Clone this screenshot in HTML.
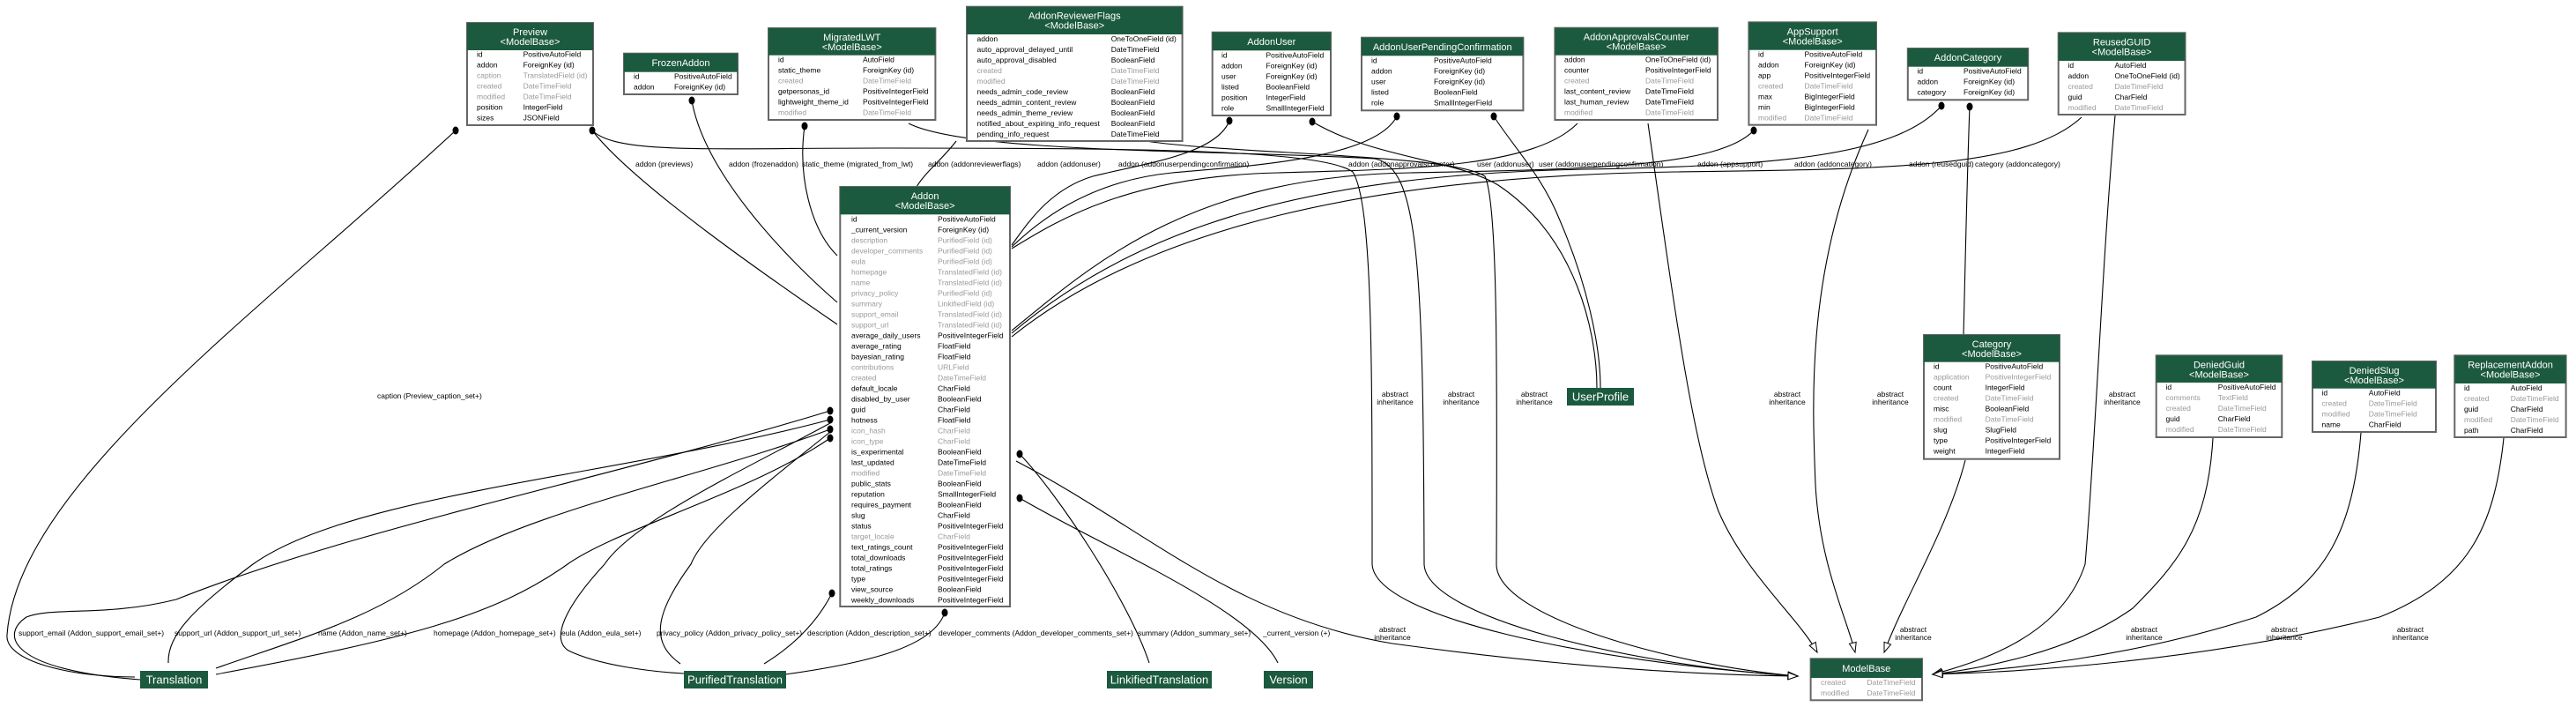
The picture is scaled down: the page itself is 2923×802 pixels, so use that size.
<!DOCTYPE html>
<html><head><meta charset="utf-8"><style>
html,body{margin:0;padding:0;background:#fff;}
svg{display:block;}
text{font-family:"Liberation Sans",Arial,sans-serif;}
.h{fill:#fff;font-size:11px;text-anchor:middle;}
.r{fill:#000;font-size:8.5px;}
.g{fill:#9a9a9a;font-size:8.5px;}
.l{fill:#000;font-size:8.5px;}
.a{fill:#000;font-size:8.5px;text-anchor:middle;}
.n{fill:#fff;font-size:13px;text-anchor:middle;}
.bx{fill:#fff;stroke:#666;stroke-width:2;}
.hd{fill:#1c5a3f;}
.e{fill:none;stroke:#000;stroke-width:1.1;}
.dot{fill:#000;}
</style></head><body>
<svg width="2923" height="802" viewBox="0 0 2923 802" xmlns="http://www.w3.org/2000/svg">
<defs>
<marker id="tri" markerUnits="userSpaceOnUse" markerWidth="14" markerHeight="12" refX="12" refY="5" orient="auto">
<path d="M1,1 L12,5 L1,9 Z" fill="#fff" stroke="#000" stroke-width="1"/>
</marker>
</defs>

<path class="e" d="M672,148 C720,210 880,320 950,368"/>
<path class="e" d="M785,114 C800,200 900,300 950,343"/>
<path class="e" d="M913,143 C905,200 920,260 950,290"/>
<path class="e" d="M1085,160 C1070,180 1050,195 1040,212"/>
<path class="e" d="M1395,137 C1380,175 1300,185 1240,200 C1190,215 1165,255 1148,278"/>
<path class="e" d="M1585,132 C1560,180 1420,188 1330,196 C1230,206 1175,255 1148,280"/>
<path class="e" d="M1790,140 C1740,190 1600,192 1450,196 C1280,200 1200,250 1148,282"/>
<path class="e" d="M1990,148 C1950,190 1800,192 1600,196 C1350,200 1240,300 1148,375"/>
<path class="e" d="M2203,120 C2150,180 2000,188 1800,192 C1500,198 1300,250 1148,378"/>
<path class="e" d="M2362,133 C2300,190 2150,192 1900,195 C1550,200 1300,260 1148,382"/>
<path class="e" d="M1489,138 C1560,180 1650,180 1700,210 C1790,270 1812,380 1812,440"/>
<path class="e" d="M1695,132 C1720,170 1750,200 1770,250 C1800,320 1816,390 1816,440"/>
<path class="e" d="M2235,121 C2232,200 2230,300 2228,380"/>

<path class="e" marker-end="url(#tri)" d="M672,148 C700,175 800,168 1000,168 C1300,168 1500,170 1535,195 C1557,230 1557,400 1557,640 C1560,700 1800,750 2040,767"/>
<path class="e" marker-end="url(#tri)" d="M1031,140 C1100,175 1400,170 1560,180 C1610,190 1615,300 1616,640 C1618,700 1850,755 2040,767"/>
<path class="e" marker-end="url(#tri)" d="M1300,160 C1400,175 1650,175 1685,200 C1699,230 1699,400 1698,640 C1698,700 1900,755 2040,767"/>
<path class="e" marker-end="url(#tri)" d="M1153,523 C1300,600 1400,700 1580,730 C1800,760 1950,766 2040,767"/>
<path class="e" marker-end="url(#tri)" d="M1870,140 C1900,350 1920,500 1950,580 C1980,650 2040,700 2062,740"/>
<path class="e" marker-end="url(#tri)" d="M2120,147 C2050,300 2056,450 2060,550 C2065,640 2095,700 2105,740"/>
<path class="e" marker-end="url(#tri)" d="M2230,522 C2210,600 2160,680 2138,740"/>
<path class="e" marker-end="url(#tri)" d="M2400,131 C2385,300 2378,500 2366,640 C2340,720 2250,750 2193,765"/>
<path class="e" marker-end="url(#tri)" d="M2511,497 C2505,600 2470,640 2420,690 C2350,740 2250,758 2193,765"/>
<path class="e" marker-end="url(#tri)" d="M2679,491 C2670,600 2640,660 2560,700 C2420,745 2280,760 2193,765"/>
<path class="e" marker-end="url(#tri)" d="M2841,497 C2830,600 2800,660 2700,700 C2500,750 2300,762 2193,765"/>

<path class="e" d="M1157,515 C1200,560 1280,680 1304,752"/>
<path class="e" d="M1157,565 C1250,620 1420,690 1450,752"/>

<path class="e" d="M517,148 C300,350 20,550 8,720 C5,750 80,768 153,768"/>
<path class="e" d="M942,466 C700,540 400,600 200,680 C120,700 60,688 30,700 C0,720 10,760 159,771"/>
<path class="e" d="M942,476 C700,540 400,560 287,640 C220,690 190,720 191,752"/>
<path class="e" d="M942,487 C800,540 600,580 504,640 C430,700 344,723 245,758"/>
<path class="e" d="M942,497 C850,560 700,600 644,640 C560,700 459,725 245,765"/>
<path class="e" d="M942,480 C850,530 720,590 686,640 C640,690 625,725 645,738 C680,755 740,762 776,764"/>
<path class="e" d="M942,490 C880,540 800,600 784,640 C740,700 740,730 772,753"/>
<path class="e" d="M944,673 C920,720 880,745 867,753"/>
<path class="e" d="M1072,695 C1060,730 1000,750 891,765"/>

<ellipse class="dot" cx="517" cy="148" rx="3.5" ry="4.5"/>
<ellipse class="dot" cx="672" cy="148" rx="3.5" ry="4.5"/>
<ellipse class="dot" cx="785" cy="114" rx="3.5" ry="4.5"/>
<ellipse class="dot" cx="913" cy="143" rx="3.5" ry="4.5"/>
<ellipse class="dot" cx="1395" cy="137" rx="3.5" ry="4.5"/>
<ellipse class="dot" cx="1489" cy="138" rx="3.5" ry="4.5"/>
<ellipse class="dot" cx="1585" cy="132" rx="3.5" ry="4.5"/>
<ellipse class="dot" cx="1695" cy="132" rx="3.5" ry="4.5"/>
<ellipse class="dot" cx="1990" cy="148" rx="3.5" ry="4.5"/>
<ellipse class="dot" cx="2203" cy="120" rx="3.5" ry="4.5"/>
<ellipse class="dot" cx="2235" cy="121" rx="3.5" ry="4.5"/>
<ellipse class="dot" cx="942" cy="466" rx="3.5" ry="4.5"/>
<ellipse class="dot" cx="942" cy="476" rx="3.5" ry="4.5"/>
<ellipse class="dot" cx="942" cy="487" rx="3.5" ry="4.5"/>
<ellipse class="dot" cx="942" cy="497" rx="3.5" ry="4.5"/>
<ellipse class="dot" cx="944" cy="673" rx="3.5" ry="4.5"/>
<ellipse class="dot" cx="1157" cy="515" rx="3.5" ry="4.5"/>
<ellipse class="dot" cx="1157" cy="565" rx="3.5" ry="4.5"/>
<ellipse class="dot" cx="1072" cy="695" rx="3.5" ry="4.5"/>

<text class="l" x="721" y="189">addon (previews)</text>
<text class="l" x="827" y="189">addon (frozenaddon)</text>
<text class="l" x="910" y="189">static_theme (migrated_from_lwt)</text>
<text class="l" x="1053" y="189">addon (addonreviewerflags)</text>
<text class="l" x="1177" y="189">addon (addonuser)</text>
<text class="l" x="1269" y="189">addon (addonuserpendingconfirmation)</text>
<text class="l" x="1530" y="189">addon (addonapprovalscounter)</text>
<text class="l" x="1676" y="189">user (addonuser)</text>
<text class="l" x="1746" y="189">user (addonuserpendingconfirmation)</text>
<text class="l" x="1926" y="189">addon (appsupport)</text>
<text class="l" x="2036" y="189">addon (addoncategory)</text>
<text class="l" x="2166" y="189">addon (reusedguid)</text>
<text class="l" x="2241" y="189">category (addoncategory)</text>
<text class="l" x="428" y="452">caption (Preview_caption_set+)</text>
<text class="l" x="21" y="721">support_email (Addon_support_email_set+)</text>
<text class="l" x="198" y="721">support_url (Addon_support_url_set+)</text>
<text class="l" x="361" y="721">name (Addon_name_set+)</text>
<text class="l" x="492" y="721">homepage (Addon_homepage_set+)</text>
<text class="l" x="637" y="721">eula (Addon_eula_set+)</text>
<text class="l" x="745" y="721">privacy_policy (Addon_privacy_policy_set+)</text>
<text class="l" x="916" y="721">description (Addon_description_set+)</text>
<text class="l" x="1065" y="721">developer_comments (Addon_developer_comments_set+)</text>
<text class="l" x="1291" y="721">summary (Addon_summary_set+)</text>
<text class="l" x="1433" y="721">_current_version (+)</text>
<g class="a">
<text x="1583" y="450">abstract</text><text x="1583" y="459">inheritance</text>
<text x="1658" y="450">abstract</text><text x="1658" y="459">inheritance</text>
<text x="1741" y="450">abstract</text><text x="1741" y="459">inheritance</text>
<text x="2028" y="450">abstract</text><text x="2028" y="459">inheritance</text>
<text x="2145" y="450">abstract</text><text x="2145" y="459">inheritance</text>
<text x="2408" y="450">abstract</text><text x="2408" y="459">inheritance</text>
<text x="1580" y="717">abstract</text><text x="1580" y="726">inheritance</text>
<text x="2171" y="717">abstract</text><text x="2171" y="726">inheritance</text>
<text x="2433" y="717">abstract</text><text x="2433" y="726">inheritance</text>
<text x="2592" y="717">abstract</text><text x="2592" y="726">inheritance</text>
<text x="2735" y="717">abstract</text><text x="2735" y="726">inheritance</text>
</g>

<rect class="hd" x="159" y="761" width="77" height="20"/><text class="n" x="197.5" y="775.5">Translation</text>
<rect class="hd" x="776" y="761" width="116" height="20"/><text class="n" x="834" y="775.5">PurifiedTranslation</text>
<rect class="hd" x="1256" y="761" width="119" height="20"/><text class="n" x="1315.5" y="775.5">LinkifiedTranslation</text>
<rect class="hd" x="1434" y="761" width="56" height="20"/><text class="n" x="1462" y="775.5">Version</text>
<rect class="hd" x="1778" y="440" width="76" height="20"/><text class="n" x="1816" y="454.5">UserProfile</text>

<rect class="bx" x="530" y="26" width="143" height="116"/>
<rect class="hd" x="530" y="26" width="143" height="31"/>
<text class="h" x="601.5" y="40">Preview</text><text class="h" x="601.5" y="51">&lt;ModelBase&gt;</text>
<text class="r" x="541" y="64.7">id</text><text class="r" x="593.6" y="64.7">PositiveAutoField</text>
<text class="r" x="541" y="76.7">addon</text><text class="r" x="593.6" y="76.7">ForeignKey (id)</text>
<text class="g" x="541" y="88.7">caption</text><text class="g" x="593.6" y="88.7">TranslatedField (id)</text>
<text class="g" x="541" y="100.7">created</text><text class="g" x="593.6" y="100.7">DateTimeField</text>
<text class="g" x="541" y="112.7">modified</text><text class="g" x="593.6" y="112.7">DateTimeField</text>
<text class="r" x="541" y="124.7">position</text><text class="r" x="593.6" y="124.7">IntegerField</text>
<text class="r" x="541" y="136.7">sizes</text><text class="r" x="593.6" y="136.7">JSONField</text>

<rect class="bx" x="708" y="60.7" width="129" height="46.3"/>
<rect class="hd" x="708" y="60.7" width="129" height="21"/>
<text class="h" x="772.5" y="75">FrozenAddon</text>
<text class="r" x="719" y="89.7">id</text><text class="r" x="765" y="89.7">PositiveAutoField</text>
<text class="r" x="719" y="101.7">addon</text><text class="r" x="765" y="101.7">ForeignKey (id)</text>

<rect class="bx" x="872" y="32" width="189.4" height="104"/>
<rect class="hd" x="872" y="32" width="189.4" height="30.7"/>
<text class="h" x="966.7" y="46">MigratedLWT</text><text class="h" x="966.7" y="57">&lt;ModelBase&gt;</text>
<text class="r" x="883" y="70.7">id</text><text class="r" x="979" y="70.7">AutoField</text>
<text class="r" x="883" y="82.7">static_theme</text><text class="r" x="979" y="82.7">ForeignKey (id)</text>
<text class="g" x="883" y="94.7">created</text><text class="g" x="979" y="94.7">DateTimeField</text>
<text class="r" x="883" y="106.7">getpersonas_id</text><text class="r" x="979" y="106.7">PositiveIntegerField</text>
<text class="r" x="883" y="118.7">lightweight_theme_id</text><text class="r" x="979" y="118.7">PositiveIntegerField</text>
<text class="g" x="883" y="130.7">modified</text><text class="g" x="979" y="130.7">DateTimeField</text>

<rect class="bx" x="1097" y="7.7" width="244.6" height="152.3"/>
<rect class="hd" x="1097" y="7.7" width="244.6" height="31.3"/>
<text class="h" x="1219.3" y="21.7">AddonReviewerFlags</text><text class="h" x="1219.3" y="32.7">&lt;ModelBase&gt;</text>
<text class="r" x="1108.5" y="47">addon</text><text class="r" x="1260.7" y="47">OneToOneField (id)</text>
<text class="r" x="1108.5" y="59">auto_approval_delayed_until</text><text class="r" x="1260.7" y="59">DateTimeField</text>
<text class="r" x="1108.5" y="71">auto_approval_disabled</text><text class="r" x="1260.7" y="71">BooleanField</text>
<text class="g" x="1108.5" y="83">created</text><text class="g" x="1260.7" y="83">DateTimeField</text>
<text class="g" x="1108.5" y="95">modified</text><text class="g" x="1260.7" y="95">DateTimeField</text>
<text class="r" x="1108.5" y="107">needs_admin_code_review</text><text class="r" x="1260.7" y="107">BooleanField</text>
<text class="r" x="1108.5" y="119">needs_admin_content_review</text><text class="r" x="1260.7" y="119">BooleanField</text>
<text class="r" x="1108.5" y="131">needs_admin_theme_review</text><text class="r" x="1260.7" y="131">BooleanField</text>
<text class="r" x="1108.5" y="143">notified_about_expiring_info_request</text><text class="r" x="1260.7" y="143">BooleanField</text>
<text class="r" x="1108.5" y="155">pending_info_request</text><text class="r" x="1260.7" y="155">DateTimeField</text>

<rect class="bx" x="1375.7" y="36.7" width="134.3" height="94.3"/>
<rect class="hd" x="1375.7" y="36.7" width="134.3" height="20.6"/>
<text class="h" x="1442.8" y="51">AddonUser</text>
<text class="r" x="1386" y="65.3">id</text><text class="r" x="1436.5" y="65.3">PositiveAutoField</text>
<text class="r" x="1386" y="77.3">addon</text><text class="r" x="1436.5" y="77.3">ForeignKey (id)</text>
<text class="r" x="1386" y="89.3">user</text><text class="r" x="1436.5" y="89.3">ForeignKey (id)</text>
<text class="r" x="1386" y="101.3">listed</text><text class="r" x="1436.5" y="101.3">BooleanField</text>
<text class="r" x="1386" y="113.3">position</text><text class="r" x="1436.5" y="113.3">IntegerField</text>
<text class="r" x="1386" y="125.3">role</text><text class="r" x="1436.5" y="125.3">SmallIntegerField</text>

<rect class="bx" x="1545" y="42.7" width="183.4" height="82.6"/>
<rect class="hd" x="1545" y="42.7" width="183.4" height="20.6"/>
<text class="h" x="1636.7" y="57">AddonUserPendingConfirmation</text>
<text class="r" x="1556" y="71.3">id</text><text class="r" x="1627" y="71.3">PositiveAutoField</text>
<text class="r" x="1556" y="83.3">addon</text><text class="r" x="1627" y="83.3">ForeignKey (id)</text>
<text class="r" x="1556" y="95.3">user</text><text class="r" x="1627" y="95.3">ForeignKey (id)</text>
<text class="r" x="1556" y="107.3">listed</text><text class="r" x="1627" y="107.3">BooleanField</text>
<text class="r" x="1556" y="119.3">role</text><text class="r" x="1627" y="119.3">SmallIntegerField</text>

<rect class="bx" x="1764.4" y="31.7" width="184.6" height="104.3"/>
<rect class="hd" x="1764.4" y="31.7" width="184.6" height="31"/>
<text class="h" x="1856.7" y="45.7">AddonApprovalsCounter</text><text class="h" x="1856.7" y="56.7">&lt;ModelBase&gt;</text>
<text class="r" x="1775" y="70.7">addon</text><text class="r" x="1867" y="70.7">OneToOneField (id)</text>
<text class="r" x="1775" y="82.7">counter</text><text class="r" x="1867" y="82.7">PositiveIntegerField</text>
<text class="g" x="1775" y="94.7">created</text><text class="g" x="1867" y="94.7">DateTimeField</text>
<text class="r" x="1775" y="106.7">last_content_review</text><text class="r" x="1867" y="106.7">DateTimeField</text>
<text class="r" x="1775" y="118.7">last_human_review</text><text class="r" x="1867" y="118.7">DateTimeField</text>
<text class="g" x="1775" y="130.7">modified</text><text class="g" x="1867" y="130.7">DateTimeField</text>

<rect class="bx" x="1984.4" y="25.3" width="144.6" height="116.4"/>
<rect class="hd" x="1984.4" y="25.3" width="144.6" height="31.4"/>
<text class="h" x="2056.7" y="39.3">AppSupport</text><text class="h" x="2056.7" y="50.3">&lt;ModelBase&gt;</text>
<text class="r" x="1995" y="64.7">id</text><text class="r" x="2047.5" y="64.7">PositiveAutoField</text>
<text class="r" x="1995" y="76.7">addon</text><text class="r" x="2047.5" y="76.7">ForeignKey (id)</text>
<text class="r" x="1995" y="88.7">app</text><text class="r" x="2047.5" y="88.7">PositiveIntegerField</text>
<text class="g" x="1995" y="100.7">created</text><text class="g" x="2047.5" y="100.7">DateTimeField</text>
<text class="r" x="1995" y="112.7">max</text><text class="r" x="2047.5" y="112.7">BigIntegerField</text>
<text class="r" x="1995" y="124.7">min</text><text class="r" x="2047.5" y="124.7">BigIntegerField</text>
<text class="g" x="1995" y="136.7">modified</text><text class="g" x="2047.5" y="136.7">DateTimeField</text>

<rect class="bx" x="2164.8" y="55" width="136.4" height="58.3"/>
<rect class="hd" x="2164.8" y="55" width="136.4" height="20.7"/>
<text class="h" x="2233" y="69">AddonCategory</text>
<text class="r" x="2175.5" y="83.7">id</text><text class="r" x="2228" y="83.7">PositiveAutoField</text>
<text class="r" x="2175.5" y="95.7">addon</text><text class="r" x="2228" y="95.7">ForeignKey (id)</text>
<text class="r" x="2175.5" y="107.7">category</text><text class="r" x="2228" y="107.7">ForeignKey (id)</text>

<rect class="bx" x="2335.7" y="37.3" width="143.8" height="92.7"/>
<rect class="hd" x="2335.7" y="37.3" width="143.8" height="31.7"/>
<text class="h" x="2407.6" y="51.3">ReusedGUID</text><text class="h" x="2407.6" y="62.3">&lt;ModelBase&gt;</text>
<text class="r" x="2346.5" y="77">id</text><text class="r" x="2399.5" y="77">AutoField</text>
<text class="r" x="2346.5" y="89">addon</text><text class="r" x="2399.5" y="89">OneToOneField (id)</text>
<text class="g" x="2346.5" y="101">created</text><text class="g" x="2399.5" y="101">DateTimeField</text>
<text class="r" x="2346.5" y="113">guid</text><text class="r" x="2399.5" y="113">CharField</text>
<text class="g" x="2346.5" y="125">modified</text><text class="g" x="2399.5" y="125">DateTimeField</text>

<rect class="bx" x="953.3" y="212" width="192.7" height="476"/>
<rect class="hd" x="953.3" y="212" width="192.7" height="31.3"/>
<text class="h" x="1049.6" y="226">Addon</text><text class="h" x="1049.6" y="237">&lt;ModelBase&gt;</text>
<text class="r" x="966" y="251.3">id</text><text class="r" x="1064" y="251.3">PositiveAutoField</text>
<text class="r" x="966" y="263.3">_current_version</text><text class="r" x="1064" y="263.3">ForeignKey (id)</text>
<text class="g" x="966" y="275.3">description</text><text class="g" x="1064" y="275.3">PurifiedField (id)</text>
<text class="g" x="966" y="287.3">developer_comments</text><text class="g" x="1064" y="287.3">PurifiedField (id)</text>
<text class="g" x="966" y="299.3">eula</text><text class="g" x="1064" y="299.3">PurifiedField (id)</text>
<text class="g" x="966" y="311.3">homepage</text><text class="g" x="1064" y="311.3">TranslatedField (id)</text>
<text class="g" x="966" y="323.3">name</text><text class="g" x="1064" y="323.3">TranslatedField (id)</text>
<text class="g" x="966" y="335.3">privacy_policy</text><text class="g" x="1064" y="335.3">PurifiedField (id)</text>
<text class="g" x="966" y="347.3">summary</text><text class="g" x="1064" y="347.3">LinkifiedField (id)</text>
<text class="g" x="966" y="359.3">support_email</text><text class="g" x="1064" y="359.3">TranslatedField (id)</text>
<text class="g" x="966" y="371.3">support_url</text><text class="g" x="1064" y="371.3">TranslatedField (id)</text>
<text class="r" x="966" y="383.3">average_daily_users</text><text class="r" x="1064" y="383.3">PositiveIntegerField</text>
<text class="r" x="966" y="395.3">average_rating</text><text class="r" x="1064" y="395.3">FloatField</text>
<text class="r" x="966" y="407.3">bayesian_rating</text><text class="r" x="1064" y="407.3">FloatField</text>
<text class="g" x="966" y="419.3">contributions</text><text class="g" x="1064" y="419.3">URLField</text>
<text class="g" x="966" y="431.3">created</text><text class="g" x="1064" y="431.3">DateTimeField</text>
<text class="r" x="966" y="443.3">default_locale</text><text class="r" x="1064" y="443.3">CharField</text>
<text class="r" x="966" y="455.3">disabled_by_user</text><text class="r" x="1064" y="455.3">BooleanField</text>
<text class="r" x="966" y="467.3">guid</text><text class="r" x="1064" y="467.3">CharField</text>
<text class="r" x="966" y="479.3">hotness</text><text class="r" x="1064" y="479.3">FloatField</text>
<text class="g" x="966" y="491.3">icon_hash</text><text class="g" x="1064" y="491.3">CharField</text>
<text class="g" x="966" y="503.3">icon_type</text><text class="g" x="1064" y="503.3">CharField</text>
<text class="r" x="966" y="515.3">is_experimental</text><text class="r" x="1064" y="515.3">BooleanField</text>
<text class="r" x="966" y="527.3">last_updated</text><text class="r" x="1064" y="527.3">DateTimeField</text>
<text class="g" x="966" y="539.3">modified</text><text class="g" x="1064" y="539.3">DateTimeField</text>
<text class="r" x="966" y="551.3">public_stats</text><text class="r" x="1064" y="551.3">BooleanField</text>
<text class="r" x="966" y="563.3">reputation</text><text class="r" x="1064" y="563.3">SmallIntegerField</text>
<text class="r" x="966" y="575.3">requires_payment</text><text class="r" x="1064" y="575.3">BooleanField</text>
<text class="r" x="966" y="587.3">slug</text><text class="r" x="1064" y="587.3">CharField</text>
<text class="r" x="966" y="599.3">status</text><text class="r" x="1064" y="599.3">PositiveIntegerField</text>
<text class="g" x="966" y="611.3">target_locale</text><text class="g" x="1064" y="611.3">CharField</text>
<text class="r" x="966" y="623.3">text_ratings_count</text><text class="r" x="1064" y="623.3">PositiveIntegerField</text>
<text class="r" x="966" y="635.3">total_downloads</text><text class="r" x="1064" y="635.3">PositiveIntegerField</text>
<text class="r" x="966" y="647.3">total_ratings</text><text class="r" x="1064" y="647.3">PositiveIntegerField</text>
<text class="r" x="966" y="659.3">type</text><text class="r" x="1064" y="659.3">PositiveIntegerField</text>
<text class="r" x="966" y="671.3">view_source</text><text class="r" x="1064" y="671.3">BooleanField</text>
<text class="r" x="966" y="683.3">weekly_downloads</text><text class="r" x="1064" y="683.3">PositiveIntegerField</text>

<rect class="bx" x="2183" y="380" width="154" height="140.7"/>
<rect class="hd" x="2183" y="380" width="154" height="30.7"/>
<text class="h" x="2260" y="394">Category</text><text class="h" x="2260" y="405">&lt;ModelBase&gt;</text>
<text class="r" x="2194" y="418.7">id</text><text class="r" x="2252.6" y="418.7">PositiveAutoField</text>
<text class="g" x="2194" y="430.7">application</text><text class="g" x="2252.6" y="430.7">PositiveIntegerField</text>
<text class="r" x="2194" y="442.7">count</text><text class="r" x="2252.6" y="442.7">IntegerField</text>
<text class="g" x="2194" y="454.7">created</text><text class="g" x="2252.6" y="454.7">DateTimeField</text>
<text class="r" x="2194" y="466.7">misc</text><text class="r" x="2252.6" y="466.7">BooleanField</text>
<text class="g" x="2194" y="478.7">modified</text><text class="g" x="2252.6" y="478.7">DateTimeField</text>
<text class="r" x="2194" y="490.7">slug</text><text class="r" x="2252.6" y="490.7">SlugField</text>
<text class="r" x="2194" y="502.7">type</text><text class="r" x="2252.6" y="502.7">PositiveIntegerField</text>
<text class="r" x="2194" y="514.7">weight</text><text class="r" x="2252.6" y="514.7">IntegerField</text>

<rect class="bx" x="2446.7" y="403.3" width="142.6" height="92.7"/>
<rect class="hd" x="2446.7" y="403.3" width="142.6" height="30.7"/>
<text class="h" x="2518" y="417.3">DeniedGuid</text><text class="h" x="2518" y="428.3">&lt;ModelBase&gt;</text>
<text class="r" x="2457.5" y="442">id</text><text class="r" x="2516.8" y="442">PositiveAutoField</text>
<text class="g" x="2457.5" y="454">comments</text><text class="g" x="2516.8" y="454">TextField</text>
<text class="g" x="2457.5" y="466">created</text><text class="g" x="2516.8" y="466">DateTimeField</text>
<text class="r" x="2457.5" y="478">guid</text><text class="r" x="2516.8" y="478">CharField</text>
<text class="g" x="2457.5" y="490">modified</text><text class="g" x="2516.8" y="490">DateTimeField</text>

<rect class="bx" x="2624" y="410" width="140" height="80"/>
<rect class="hd" x="2624" y="410" width="140" height="30.7"/>
<text class="h" x="2694" y="424">DeniedSlug</text><text class="h" x="2694" y="435">&lt;ModelBase&gt;</text>
<text class="r" x="2634.5" y="448.7">id</text><text class="r" x="2687.8" y="448.7">AutoField</text>
<text class="g" x="2634.5" y="460.7">created</text><text class="g" x="2687.8" y="460.7">DateTimeField</text>
<text class="g" x="2634.5" y="472.7">modified</text><text class="g" x="2687.8" y="472.7">DateTimeField</text>
<text class="r" x="2634.5" y="484.7">name</text><text class="r" x="2687.8" y="484.7">CharField</text>

<rect class="bx" x="2785.3" y="403.3" width="126.3" height="92.7"/>
<rect class="hd" x="2785.3" y="403.3" width="126.3" height="31.7"/>
<text class="h" x="2848.5" y="417.3">ReplacementAddon</text><text class="h" x="2848.5" y="428.3">&lt;ModelBase&gt;</text>
<text class="r" x="2796" y="443">id</text><text class="r" x="2848.7" y="443">AutoField</text>
<text class="g" x="2796" y="455">created</text><text class="g" x="2848.7" y="455">DateTimeField</text>
<text class="r" x="2796" y="467">guid</text><text class="r" x="2848.7" y="467">CharField</text>
<text class="g" x="2796" y="479">modified</text><text class="g" x="2848.7" y="479">DateTimeField</text>
<text class="r" x="2796" y="491">path</text><text class="r" x="2848.7" y="491">CharField</text>

<rect class="bx" x="2054.6" y="747.3" width="126.4" height="47"/>
<rect class="hd" x="2054.6" y="747.3" width="126.4" height="21.7"/>
<text class="h" x="2117.8" y="762">ModelBase</text>
<text class="g" x="2066" y="777">created</text><text class="g" x="2118.5" y="777">DateTimeField</text>
<text class="g" x="2066" y="789">modified</text><text class="g" x="2118.5" y="789">DateTimeField</text>
</svg>
</body></html>
